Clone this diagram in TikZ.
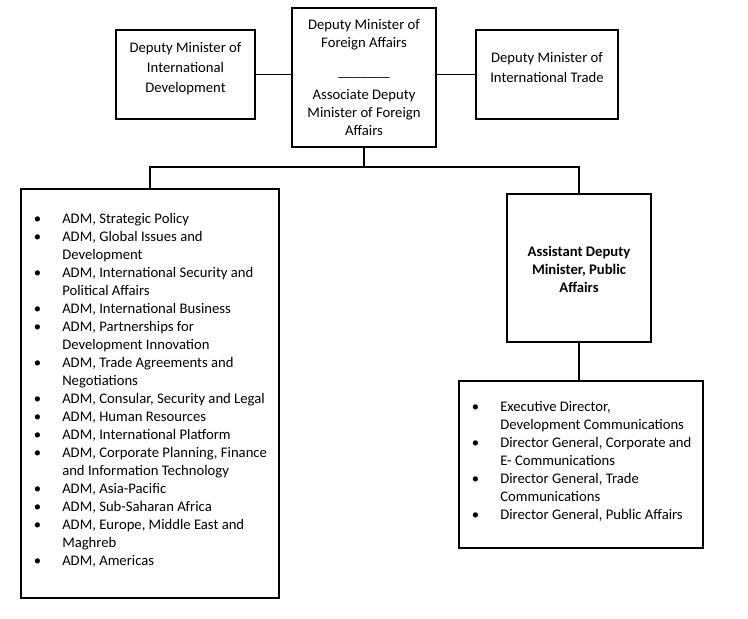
\documentclass[tikz,border=0pt]{standalone}
\usepackage{fontspec}
\setmainfont{Carlito}
\newcommand\itm{\llap{\makebox[37pt][c]{\textbullet}}}
\tikzset{
  box/.style={draw, line width=1.35pt, inner sep=0pt},
  conn/.style={line width=1.35pt},
  txt/.style={inner sep=0pt, align=center, anchor=north, font=\fontsize{11pt}{13.5pt}\selectfont},
  txtw/.style={inner sep=0pt, align=center, anchor=north, font=\fontsize{11pt}{15pt}\selectfont},
  lst/.style={inner sep=0pt, align=left, anchor=north west, font=\fontsize{11pt}{13.5pt}\selectfont}
}
\begin{document}
\begin{tikzpicture}[x=0.75pt,y=-0.75pt]
\useasboundingbox (0,0) rectangle (748,618);
% boxes
\node[box, minimum width=104.25pt, minimum height=66.75pt] (dmid) at (185.5,74.5) {};
\node[box, minimum width=108pt, minimum height=104.25pt] (dmfa) at (364,77.5) {};
\node[box, minimum width=106.5pt, minimum height=66.75pt] (dmit) at (547,74.5) {};
\node[box, minimum width=193.5pt, minimum height=306.75pt] (admbox) at (150,393.5) {};
\node[box, minimum width=108pt, minimum height=111pt] (pabox) at (579,268) {};
\node[box, minimum width=183pt, minimum height=125.25pt] (dgbox) at (581,464.5) {};
% texts
\node[txtw] (dmidT) at (185.5,38.4) {\strut Deputy Minister of\\International\\Development};
\node[txtw] (dmitT) at (547,48.4) {\strut Deputy Minister of\\International Trade};
\node[txt] (dmfaT) at (364,16.8) {\strut Deputy Minister of\\Foreign Affairs\\[8pt]\_\_\_\_\_\_\_\\[4pt]Associate Deputy\\Minister of Foreign\\Affairs};
\node[txt, font=\fontsize{11pt}{13.5pt}\selectfont\bfseries] (paT) at (579,243.8) {\strut Assistant Deputy\\Minister, Public\\Affairs};
\node[lst] (admT) at (62,210.8) {\itm\strut ADM, Strategic Policy\\
\itm ADM, Global Issues and\\
Development\\
\itm ADM, International Security and\\
Political Affairs\\
\itm ADM, International Business\\
\itm ADM, Partnerships for\\
Development Innovation\\
\itm ADM, Trade Agreements and\\
Negotiations\\
\itm ADM, Consular, Security and Legal\\
\itm ADM, Human Resources\\
\itm ADM, International Platform\\
\itm ADM, Corporate Planning, Finance\\
and Information Technology\\
\itm ADM, Asia-Pacific\\
\itm ADM, Sub-Saharan Africa\\
\itm ADM, Europe, Middle East and\\
Maghreb\\
\itm ADM, Americas};
\node[lst] (dgT) at (500,398.8) {\itm\strut Executive Director,\\
Development Communications\\
\itm Director General, Corporate and\\
E- Communications\\
\itm Director General, Trade\\
Communications\\
\itm Director General, Public Affairs};
% connectors
\draw[conn] (dmid.east) -- (dmid.east -| dmfa.west);
\draw[conn] (dmit.west) -- (dmit.west -| dmfa.east);
\draw[conn] (dmfa.south) -- ++(0,19) -| (admbox.north);
\draw[conn] (dmfa.south) -- ++(0,19) -| (pabox.north);
\draw[conn] (pabox.south) -- (pabox.south |- dgbox.north);
\end{tikzpicture}
\end{document}
